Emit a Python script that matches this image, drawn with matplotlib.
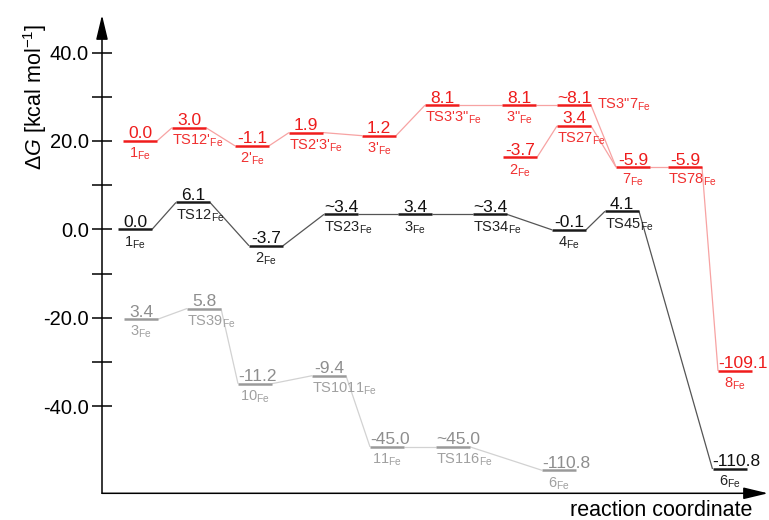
import matplotlib
matplotlib.use("Agg")
import matplotlib.pyplot as plt

plt.rcParams.update({
    "font.family": ["Liberation Sans", "DejaVu Sans"],
    "mathtext.fontset": "custom",
    "mathtext.rm": "Liberation Sans",
    "mathtext.it": "Liberation Sans:italic",
    "mathtext.bf": "Liberation Sans:bold",
    "axes.unicode_minus": False,
})

# ---------------- pathway data (relative free energies, kcal/mol) ----------------
# Black pathway, drawn on its own energy scale
black_names = ["1", "TS12", "2", "TS23", "3", "TS34", "4", "TS45", "6"]
black_energy = [0.0, 6.1, -3.7, 3.4, 3.4, 3.4, -0.1, 4.1, -110.8]
black_labels = ["0.0", "6.1", "-3.7", "~3.4", "3.4", "~3.4", "-0.1", "4.1", "-110.8"]
black_x = [33, 91, 164, 239, 313, 388, 467, 520, 627.5]
black_edges = [(0, 1), (1, 2), (2, 3), (3, 4), (4, 5), (5, 6), (6, 7), (7, 8)]
black_shift = 0.0
black_offscale = {8: -54.2}

# Red pathway (shifted up), with the 2 -> TS27 -> 7 branch
red_names = ["1", "TS12'", "2'", "TS2'3'", "3'", "TS3'3\"", "3\"", "TS3\"7",
             "7", "TS78", "8", "2", "TS27"]
red_energy = [0.0, 3.0, -1.1, 1.9, 1.2, 8.1, 8.1, 8.1, -5.9, -5.9, -109.1, -3.7, 3.4]
red_labels = ["0.0", "3.0", "-1.1", "1.9", "1.2", "8.1", "8.1", "~8.1",
              "-5.9", "-5.9", "-109.1", "-3.7", "3.4"]
red_x = [38, 87, 150, 204, 277, 340, 417, 472, 531, 583, 633, 418, 472]
red_edges = [(0, 1), (1, 2), (2, 3), (3, 4), (4, 5), (5, 6), (6, 7), (7, 8),
             (8, 9), (9, 10), (11, 12), (12, 8)]
red_shift = 20.0
red_offscale = {10: -32.0}
red_side_names = {7}

# Grey pathway (shifted down)
grey_names = ["3", "TS39", "10", "TS1011", "11", "TS116", "6"]
grey_energy = [3.4, 5.8, -11.2, -9.4, -45.0, -45.0, -110.8]
grey_labels = ["3.4", "5.8", "-11.2", "-9.4", "-45.0", "~45.0", "-110.8"]
grey_x = [39, 102, 153, 227, 285, 351, 457]
grey_edges = [(0, 1), (1, 2), (2, 3), (3, 4), (4, 5), (5, 6)]
grey_shift = -23.7
grey_offscale = {4: -49.2, 5: -49.2, 6: -54.5}

y_major = [-40, -20, 0, 20, 40]
y_minor = [-30, -10, 10, 30]

# ---------------- figure ----------------
W, H = 769, 520
fig = plt.figure(figsize=(W / 100, H / 100), dpi=100)
ax_left, ax_right, ax_bottom_px, ax_top_px = 102, 768, 493.3, 15
ax = fig.add_axes([ax_left / W, 1 - ax_bottom_px / H,
                   (ax_right - ax_left) / W, (ax_bottom_px - ax_top_px) / H])
ax.set_xlim(0, ax_right - ax_left)
ax.set_ylim(-59.7, 48.5)
for s in ax.spines.values():
    s.set_visible(False)
ax.patch.set_alpha(0)

BAR = 34  # level width in x units (= pixels)


def draw_pathway(names, energy, labels, xs, edges, shift, offscale,
                 bar_c, conn_c, val_c, name_c, side=()):
    ys = [offscale.get(i, e + shift) for i, e in enumerate(energy)]
    for a, b in edges:
        ax.plot([xs[a] + BAR / 2, xs[b] - BAR / 2], [ys[a], ys[b]],
                color=conn_c, lw=0.9, zorder=1, solid_capstyle="butt")
    ax.hlines(ys, [x - BAR / 2 for x in xs], [x + BAR / 2 for x in xs],
              color=bar_c, lw=1.8, zorder=2)
    texts = []
    for i, (x, y) in enumerate(zip(xs, ys)):
        t = ax.annotate(labels[i], (x, y), xytext=(0, 1.8), textcoords="offset points",
                        ha="center", va="baseline", fontsize=12.5, color=val_c, zorder=3)
        texts.append((t, x, y))
        s = names[i] + r"$_{\mathrm{Fe}}$"
        if i in side:
            ax.annotate(s, (x + BAR / 2, y), xytext=(4, 0), textcoords="offset points",
                        ha="left", va="center", fontsize=10.5, color=name_c, zorder=3)
        else:
            t2 = ax.annotate(s, (x, y), xytext=(0, -3.5), textcoords="offset points",
                             ha="center", va="top", fontsize=10.5, color=name_c, zorder=3)
            texts.append((t2, x, y))
    return texts


all_texts = []
all_texts += draw_pathway(grey_names, grey_energy, grey_labels, grey_x, grey_edges,
                          grey_shift, grey_offscale, "#9a9a9a", "#d2d2d2",
                          "#8e8e8e", "#a0a0a0")
all_texts += draw_pathway(black_names, black_energy, black_labels, black_x, black_edges,
                          black_shift, black_offscale, "#1a1a1a", "#555555",
                          "#111111", "#222222")
all_texts += draw_pathway(red_names, red_energy, red_labels, red_x, red_edges,
                          red_shift, red_offscale, "#f01c1c", "#f7a3a3",
                          "#ee1c1c", "#f03030", side=red_side_names)

# Labels wider than their level start at the level's left end
renderer = fig.canvas.get_renderer()
for t, x, y in all_texts:
    w = t.get_window_extent(renderer).width
    if w > BAR + 2:
        t.set_ha("left")
        t.xy = (x - BAR / 2, y)

# ---------------- axes with arrows ----------------
arrow = dict(arrowstyle="-|>,head_length=0.75,head_width=0.18", color="black",
             lw=1.1, mutation_scale=20, shrinkA=0, shrinkB=0)
ax.annotate("", xy=(0, 1), xytext=(0, 0), xycoords="axes fraction",
            textcoords="axes fraction", arrowprops=arrow)
ax.annotate("", xy=(1, 0), xytext=(0, 0), xycoords="axes fraction",
            textcoords="axes fraction", arrowprops=arrow)

ax.set_xticks([])
ax.set_yticks(y_major)
ax.set_yticklabels([f"{v:.1f}" for v in y_major])
ax.set_yticks(y_minor, minor=True)
ax.tick_params(axis="y", which="both", direction="inout", length=15, width=1.1,
               labelsize=14.5, pad=2)

fig.text(35 / W, 1 - 97 / H, r"$\Delta G$ [kcal mol$^{-1}$]", rotation=90,
         ha="center", va="center", fontsize=15.5)
fig.text(752 / W, 1 - 510 / H, "reaction coordinate", ha="right", va="center",
         fontsize=15.5)

fig.savefig("out.png", dpi=100)
